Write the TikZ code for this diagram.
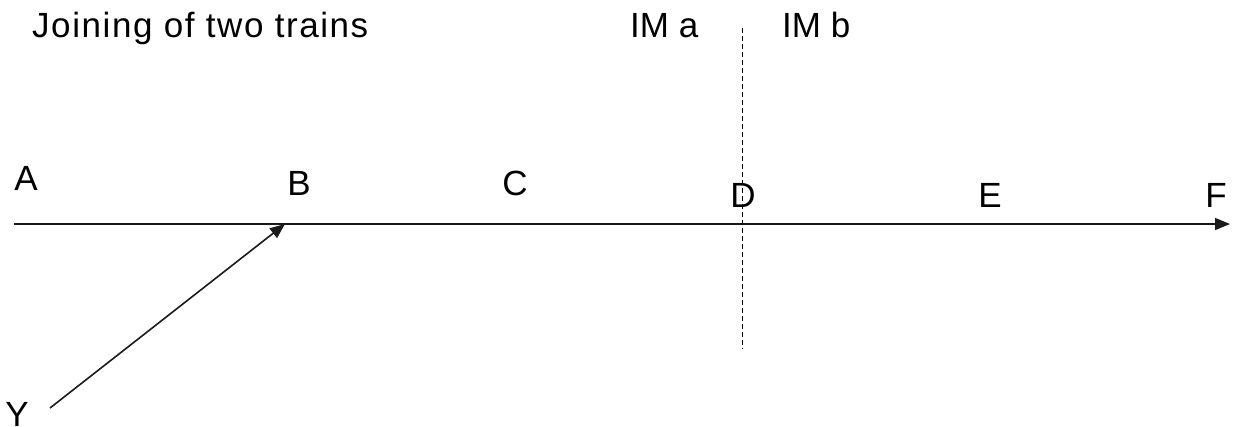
\documentclass[tikz,border=0pt]{standalone}
\usepackage{fontspec}
\setmainfont{Liberation Sans}
\newfontfamily\wideface[LetterSpace=4.5]{Liberation Sans}
\usepackage{xcolor}
\usetikzlibrary{arrows.meta,positioning}
\definecolor{ink}{HTML}{000000}
\definecolor{line}{HTML}{1A1A1A}
\tikzset{
  lbl/.style={inner sep=0pt,font=\fontsize{35}{40}\selectfont,text=ink,anchor=base},
  ttl/.style={lbl,anchor=base west},
  arr/.style={-{Triangle[length=15pt,width=12pt]},line width=1.6pt,line},
  darr/.style={line width=1pt,ink,dash pattern=on 5pt off 3pt},
}
\begin{document}
\begin{tikzpicture}[x=1pt,y=-1pt]
  \useasboundingbox (0,0) rectangle (1233,426);
  % titles
  \node[ttl,font=\wideface\fontsize{35}{40}\selectfont] (title) at (32,37) {Joining of two trains};
  \node[ttl] (ima) at (630,37) {IM a};
  \node[ttl] (imb) at (782,37) {IM b};
  % stations
  \foreach \name/\x/\y in {A/26/190,B/299/195,C/515/195,D/743/207,E/990/207,F/1216/207}{
    \node[lbl] (st\name) at (\x,\y) {\name};
  }
  \node[lbl] (stY) at (17,426) {Y};
  % main line and branch
  \coordinate (lstart) at (14,224);
  \coordinate (lend) at (1230,224);
  \coordinate (ystart) at (50,408);
  \coordinate (join) at (285,224);
  \draw[arr] (lstart) -- (lend);
  \draw[arr] (ystart) -- (join);
  % border between infrastructure managers
  \coordinate (btop) at (742,28);
  \coordinate (bbot) at (742,349);
  \draw[darr] (btop) -- (bbot);
\end{tikzpicture}
\end{document}
